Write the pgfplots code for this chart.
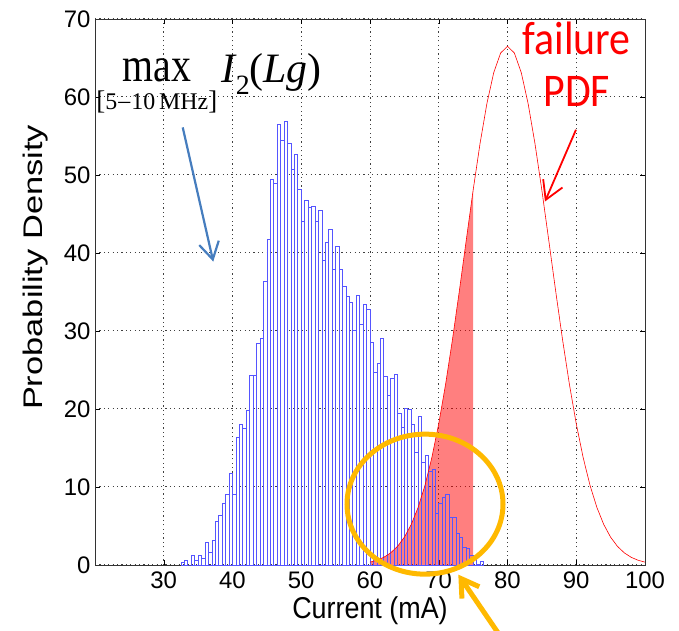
\documentclass[border=0pt]{standalone}
\usepackage{fontspec}
\setmainfont{Liberation Sans}
\newfontfamily\serifface{Liberation Serif}
\newfontfamily\calibri{Carlito}
\usepackage{graphicx}
\usepackage{pgfplots}
\pgfplotsset{compat=1.18}
\usetikzlibrary{arrows.meta}
\definecolor{histblue}{RGB}{85,85,255}
\definecolor{gold}{RGB}{255,185,0}
\definecolor{steel}{RGB}{70,125,190}
\definecolor{pdfred}{RGB}{255,0,0}

\pgfplotstableread{
x y
32.5 0.4
33.0 0.55
33.5 0
34.0 1.2
34.5 0.55
35.0 1.2
35.5 0.8
36.0 2.95
36.5 1.67
37.0 3.15
37.5 5.6
38.0 6.35
38.5 7.95
39.0 9.0
39.5 11.7
40.0 9.0
40.5 16.4
41.0 18.0
41.5 17.55
42.0 19.8
42.5 24.3
43.0 24.3
43.5 28.4
44.0 29.1
44.5 36.4
45.0 41.7
45.5 49.4
46.0 48.9
46.5 56.5
47.0 54.5
47.5 56.9
48.0 54.1
48.5 50.7
49.0 52.7
49.5 48.1
50.0 44.1
50.5 46.7
51.0 45.9
51.5 46.0
52.0 44.1
52.5 45.5
53.0 39.1
53.5 41.4
54.0 43.0
54.5 37.9
55.0 40.9
55.5 37.9
56.0 35.7
56.5 34.4
57.0 33.7
57.5 30.1
58.0 34.6
58.5 30.8
59.0 33.4
59.5 32.8
60.0 28.5
60.5 24.7
61.0 25.8
61.5 29.1
62.0 24.2
62.5 21.7
63.0 23.9
63.5 24.5
64.0 19.4
64.5 17.6
65.0 20.1
65.5 20.0
66.0 18.0
66.5 14.4
67.0 19.1
67.5 13.2
68.0 14.1
68.5 12.0
69.0 12.3
69.5 6.6
70.0 7.9
70.5 8.7
71.0 9.1
71.5 6.1
72.0 6.1
72.5 4.1
73.0 3.5
73.5 2.3
74.0 2.2
74.5 1.2
75.0 0.9
75.5 0.15
76.0 0.5
76.5 0
}\histdata

\begin{document}
\begin{tikzpicture}
\begin{axis}[
  name=ax,
  scale only axis,
  width=550bp, height=546bp,
  xmin=20, xmax=100, ymin=0, ymax=70,
  xtick={30,40,...,100},
  ytick={0,10,...,70},
  grid=major,
  grid style={dash pattern=on 1.2bp off 3.2bp, black!75, line width=1bp},
  tick align=inside,
  major tick length=5bp,
  tick style={black, line width=0.5pt},
  axis line style={black!80, line width=0.8pt},
  ticklabel style={font=\fontsize{24}{24}\selectfont},
  /pgf/number format/assume math mode=true,
  xticklabel style={yshift=-3bp},
  yticklabel style={xshift=-1bp},
  xlabel={\scalebox{1}[1.12]{Current (mA)}},
  ylabel={\scalebox{1.28}[1]{Probability Density}},
  label style={font=\fontsize{27}{27}\selectfont},
  xlabel style={at={(axis description cs:0.5,-0.084)}, anchor=center},
  ylabel style={at={(axis description cs:-0.109,0.545)}, anchor=center},
  clip=false,
]
% shaded failure region
\addplot[draw=none, fill=pdfred, fill opacity=0.5] coordinates {
(60,0) (60,0.366) (61,0.607) (62,0.983) (63,1.550) (64,2.380) (65,3.562)
(66,5.196) (67,7.383) (68,10.22) (69,13.79) (70,18.11) (71,23.19) (72,28.93)
(73,35.16) (74,41.64) (75,48.04) (75,0)} -- cycle;
% histogram
\addplot[ybar interval, draw=histblue, line width=0.65bp, fill=none] table[x=x,y=y] {\histdata};
% failure PDF
\addplot[pdfred, line width=0.6bp] coordinates {
(60,0.366) (61,0.607) (62,0.983) (63,1.550) (64,2.380) (65,3.562)
(66,5.196) (67,7.383) (68,10.22) (69,13.79) (70,18.11) (71,23.19) (72,28.93)
(73,35.16) (74,41.64) (75,48.04) (76,54.00) (77,59.15) (78,63.13) (79,65.64)
(80,66.5) (81,65.64) (82,63.13) (83,59.15) (84,54.00) (85,48.04) (86,41.64)
(87,35.16) (88,28.93) (89,23.19) (90,18.11) (91,13.79) (92,10.22) (93,7.383)
(94,5.196) (95,3.562) (96,2.380) (97,1.550) (98,0.983) (99,0.607) (100,0.366)};

% annotations
\draw[gold, line width=5bp] (axis cs:68,7.8) ellipse [x radius=78bp, y radius=70bp];
\draw[gold, line width=5bp, -{Straight Barb[length=17bp, width=21bp]}] (axis cs:79.6,-9.96) -- (axis cs:72.85,-1.24);
\draw[steel, line width=2.2bp, -{Straight Barb[length=17bp, width=20bp]}] (axis cs:32.76,56.1) -- (axis cs:37.2,38.9);
\draw[pdfred, line width=1.8bp, -{Straight Barb[length=18bp, width=21bp]}] (axis cs:89.96,55.8) -- (axis cs:85.45,46.6);

\node[anchor=base, text=pdfred, font=\calibri\fontsize{42}{42}\selectfont, inner sep=0pt] at (axis cs:90.07,65.4) {\scalebox{1}[1.12]{failure}};
\node[anchor=base, text=pdfred, font=\calibri\fontsize{42}{42}\selectfont, inner sep=0pt] at (axis cs:90.07,58.8) {\scalebox{1}[1.12]{PDF}};

\node[anchor=base, inner sep=0pt, font=\serifface\fontsize{40}{40}\selectfont] at (axis cs:29.0,62.05) {\scalebox{1}[1.22]{max}};
\node[anchor=base, inner sep=0pt, font=\serifface\fontsize{24}{24}\selectfont] at (axis cs:29.0,58.45) {{\fontsize{27}{27}\selectfont[}5\kern1pt\raisebox{0.5pt}{–}\kern1pt10\,MHz{\fontsize{27}{27}\selectfont]}};
\node[anchor=base west, inner sep=0pt, font=\serifface\fontsize{42}{42}\selectfont] at (axis cs:38.33,61.8) {\textit{I}\kern-1pt\raisebox{-12bp}{\fontsize{28}{28}\selectfont 2}(\textit{Lg})};
\end{axis}
\pgfresetboundingbox
\path[use as bounding box] ([xshift=-95bp,yshift=-65.7bp]ax.south west) rectangle ([xshift=34bp,yshift=19bp]ax.north east);
\end{tikzpicture}
\end{document}
